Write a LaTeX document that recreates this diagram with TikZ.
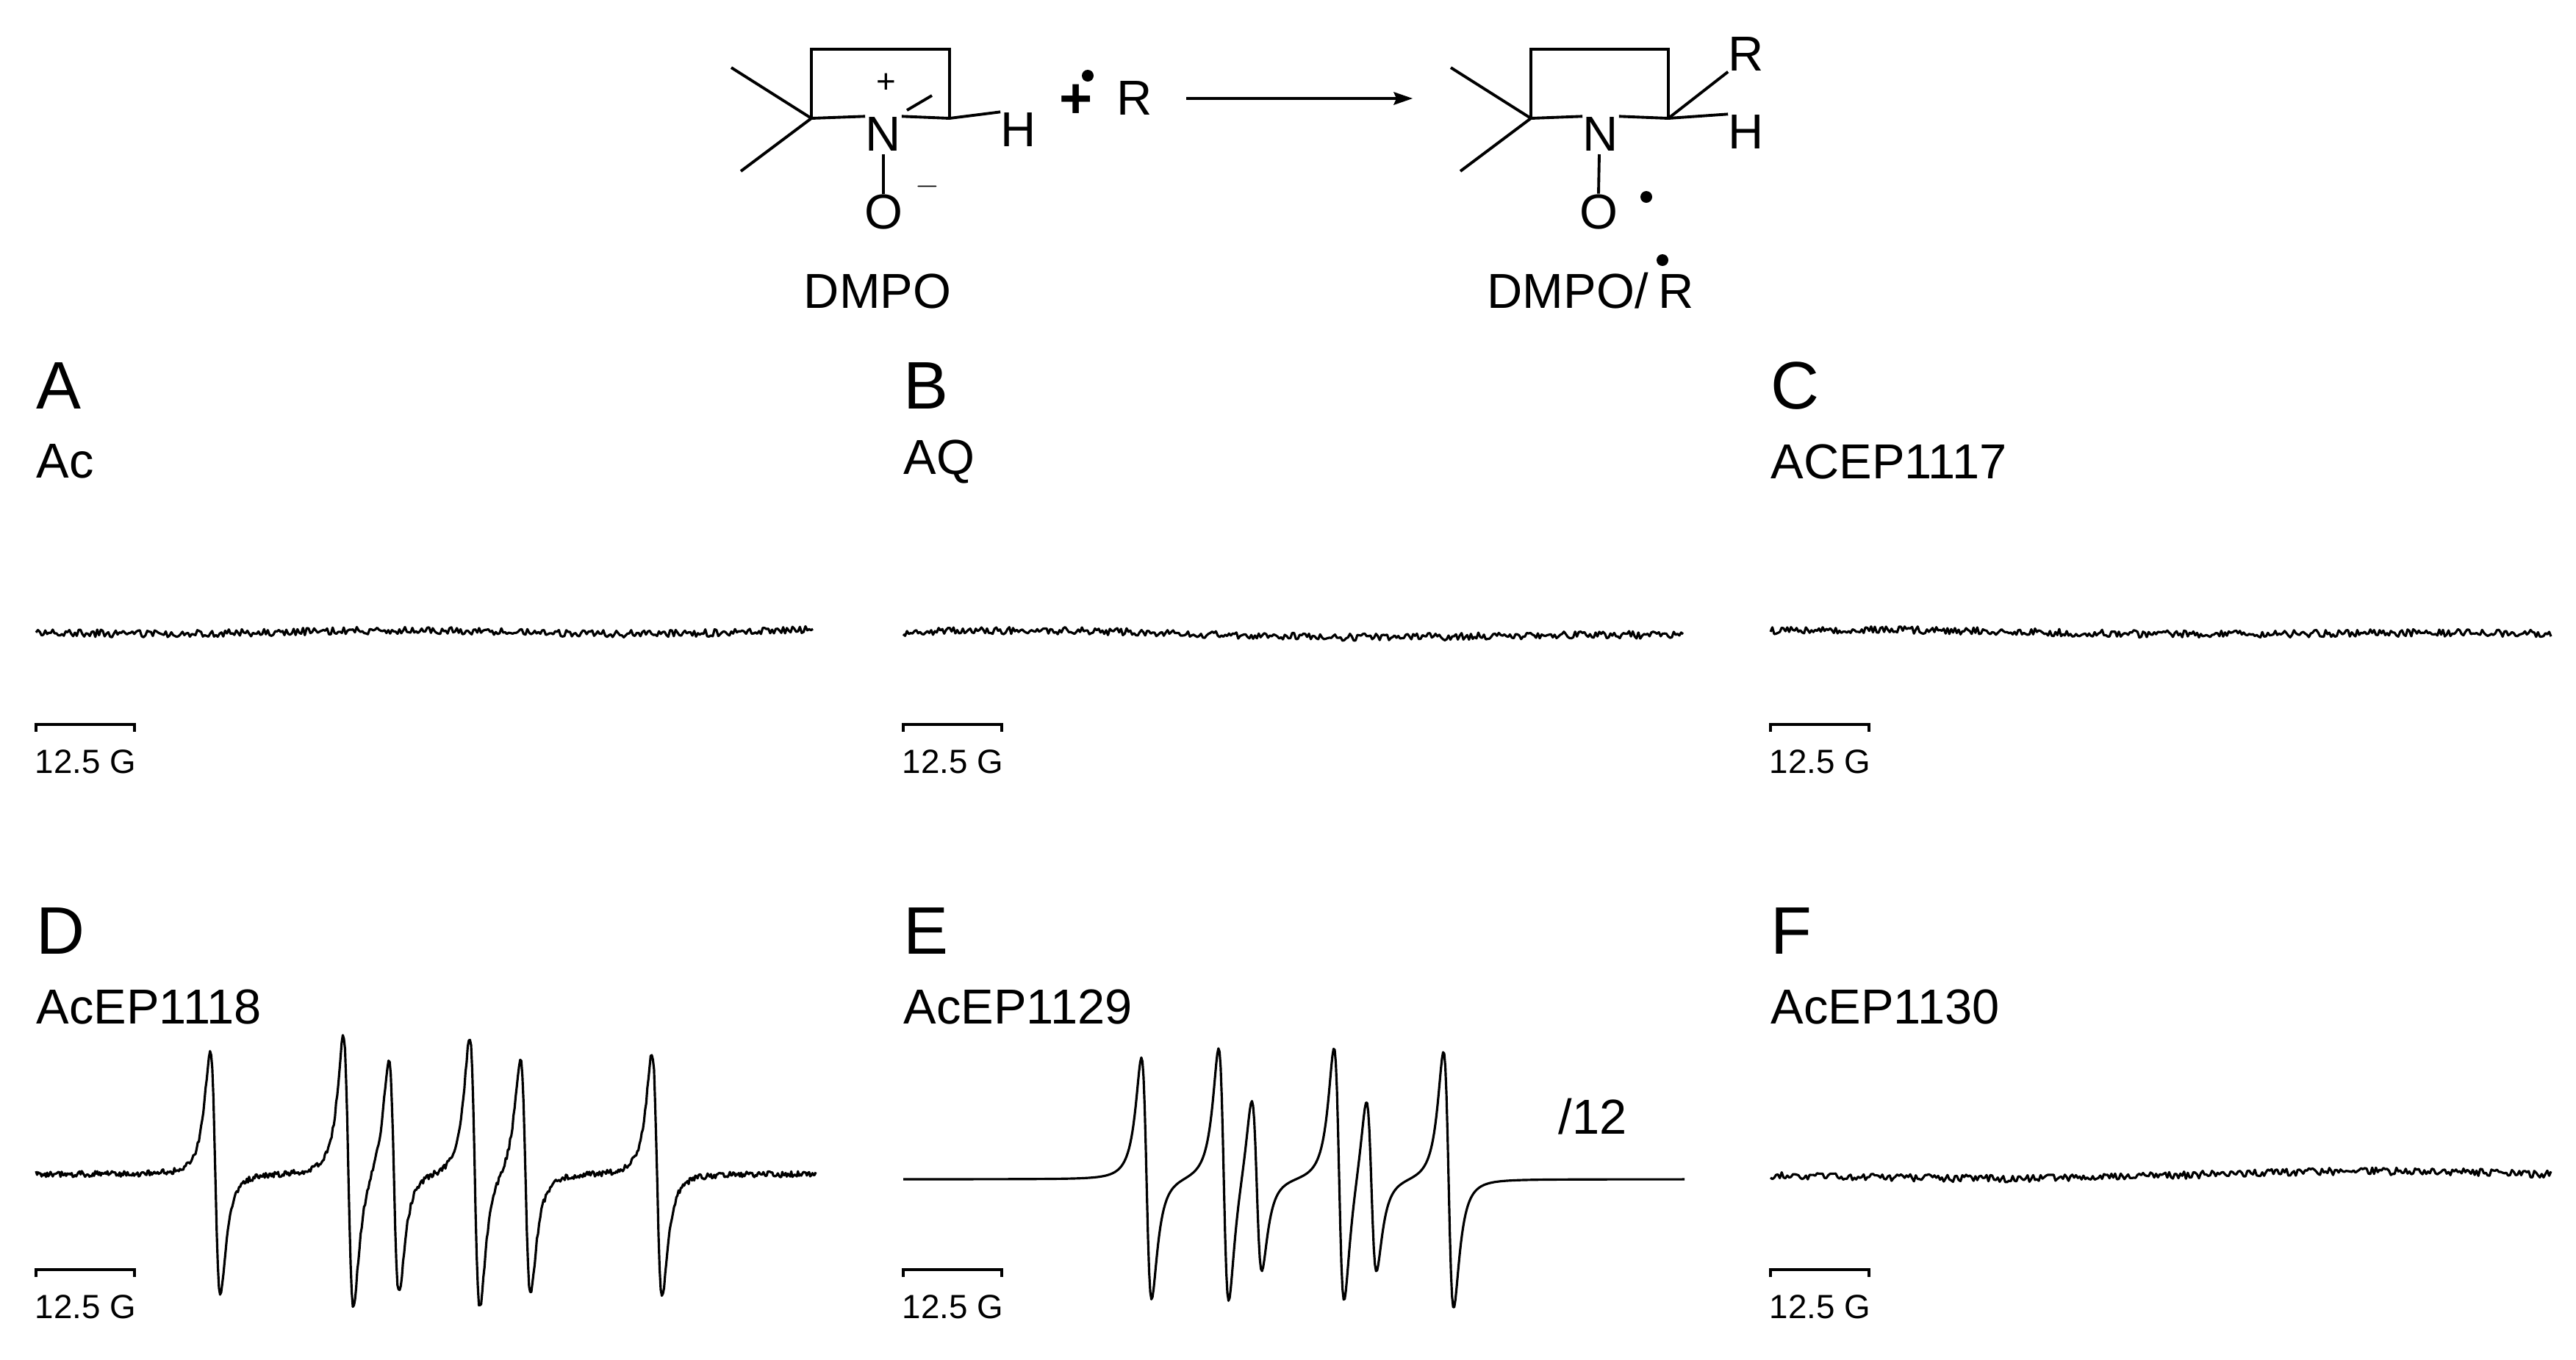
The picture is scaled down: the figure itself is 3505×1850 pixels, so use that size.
\documentclass[tikz,border=0pt]{standalone}
\usepackage{fontspec}
\setmainfont{Liberation Sans}
\begin{document}
\begin{tikzpicture}[x=0.01cm,y=-0.01cm,
  bond/.style={line width=1.1pt},
  trace/.style={line width=0.9pt,line join=round},
  chem/.style={font=\fontsize{19}{19}\selectfont,inner sep=0pt},
  letter/.style={font=\fontsize{26}{26}\selectfont,anchor=west,inner sep=0pt},
  sample/.style={font=\fontsize{19}{19}\selectfont,anchor=west,inner sep=0pt},
  barlab/.style={font=\fontsize{13}{13}\selectfont,anchor=west,inner sep=0pt},
  declare function={cl(\t)=max(min(\t/12,50),-50); ld(\t)=(cl(\t)/(1+cl(\t)^2))/(1+cl(\t)^2)/0.325;}]
\useasboundingbox (0,0) rectangle (3505,1850);
\pgfmathsetseed{7}
% ---------- DMPO ----------
\coordinate (tl) at (1104,67); \coordinate (tr) at (1292,67);
\coordinate (c5) at (1104,161); \coordinate (c2) at (1292,161);
\node[chem] (n1) at (1202,182) {N};
\node[chem] (h1) at (1386,176) {H};
\node[chem] (o1) at (1202,288) {O};
\node[chem,font=\fontsize{13}{13}\selectfont] (p1) at (1206,113) {+};
\node[chem,font=\fontsize{13}{13}\selectfont] (m1) at (1262,254) {$-$};
\draw[bond] (c5)--(tl)--(tr)--(c2);
\draw[bond] (c5)--(995,92) (c5)--(1008,233);
\draw[bond] (c5)--(n1.north west);
\draw[bond] (c2)--(n1.north east);
\draw[bond] (1234,150)--(1268,130);
\draw[bond] (c2)--(h1.north west);
\draw[bond] (1202,210)--(o1.north);
\node[chem] (dmpo) at (1194,396) {DMPO};
\node[chem,font=\bfseries\fontsize{22}{22}\selectfont] (plus) at (1464,138) {+};
\node[chem] (r0) at (1544,134) {R};
\fill (1480,103) circle (8);
% arrow
\coordinate (as) at (1614,134); \coordinate (ae) at (1922,134);
\draw[line width=1pt] (as)--(1900,134);
\fill (ae)--(1896,125)--(1900,134)--(1896,143)--cycle;
% ---------- DMPO/R ----------
\coordinate (tl2) at (2083,67); \coordinate (tr2) at (2270,67);
\coordinate (c52) at (2083,161); \coordinate (c22) at (2270,161);
\node[chem] (n2) at (2178,182) {N};
\node[chem] (h2) at (2376,179) {H};
\node[chem] (r2) at (2376,74) {R};
\node[chem] (o2) at (2175,288) {O};
\fill (2240,268) circle (8);
\draw[bond] (c52)--(tl2)--(tr2)--(c22);
\draw[bond] (c52)--(1974,92) (c52)--(1987,233);
\draw[bond] (c52)--(n2.north west);
\draw[bond] (c22)--(n2.north east);
\draw[bond] (c22)--(h2.north west);
\draw[bond] (c22)--(r2.south west);
\draw[bond] (2176,210)--(o2.north);
\node[chem] (dr) at (2164,396) {DMPO/\hspace{0.2em}R};
\fill (2262,354) circle (8);
% ---------- panels ----------
\foreach \xo/\yo/\L/\N in {49/0/A/Ac,1229/0/B/AQ,2409/0/C/ACEP1117,49/742/D/AcEP1118,1229/742/E/AcEP1129,2409/742/F/AcEP1130}{
  \node[letter] (L\L) at (\xo,525+\yo) {\L};
  \node[sample] (S\L) at (\xo,628+\yo) {\N};
  \draw[line width=0.9pt] (\xo,996+\yo)--(\xo,986+\yo)--(\xo+134,986+\yo)--(\xo+134,996+\yo);
  \node[barlab] (B\L) at (\xo-2,1037+\yo) {12.5 G};
}
% flat traces
\draw[trace] plot[domain=49:1106,samples=420] (\x,{858+5*rand+3*sin(\x*0.5)+3*sin(\x*0.17)});
\draw[trace] plot[domain=1229:2290,samples=420] (\x,{864+5*rand+3*sin(\x*0.45)+3*sin(\x*0.2)});
\draw[trace] plot[domain=2409:3471,samples=420] (\x,{862+5*rand+3*sin(\x*0.4)+3*sin(\x*0.23)});
\draw[trace] plot[domain=2409:3471,samples=420] (\x,{1600+5*rand+3*sin(\x*0.42)+3*sin(\x*0.19)});
% D
\draw[trace] plot[domain=49:1110,samples=700] (\x,{1598+4*rand
  +165*ld(\x-293)+185*ld(\x-474)+160*ld(\x-536)+185*ld(\x-646)+160*ld(\x-715)+165*ld(\x-894)});
% E
\draw[trace] plot[domain=1229:2292,samples=700] (\x,{1605
  +165*ld(\x-1560)+175*ld(\x-1665)+120*ld(\x-1710)+175*ld(\x-1822)+120*ld(\x-1866)+175*ld(\x-1971)});
\node[sample] (sc) at (2120,1520) {/12};
\end{tikzpicture}
\end{document}
